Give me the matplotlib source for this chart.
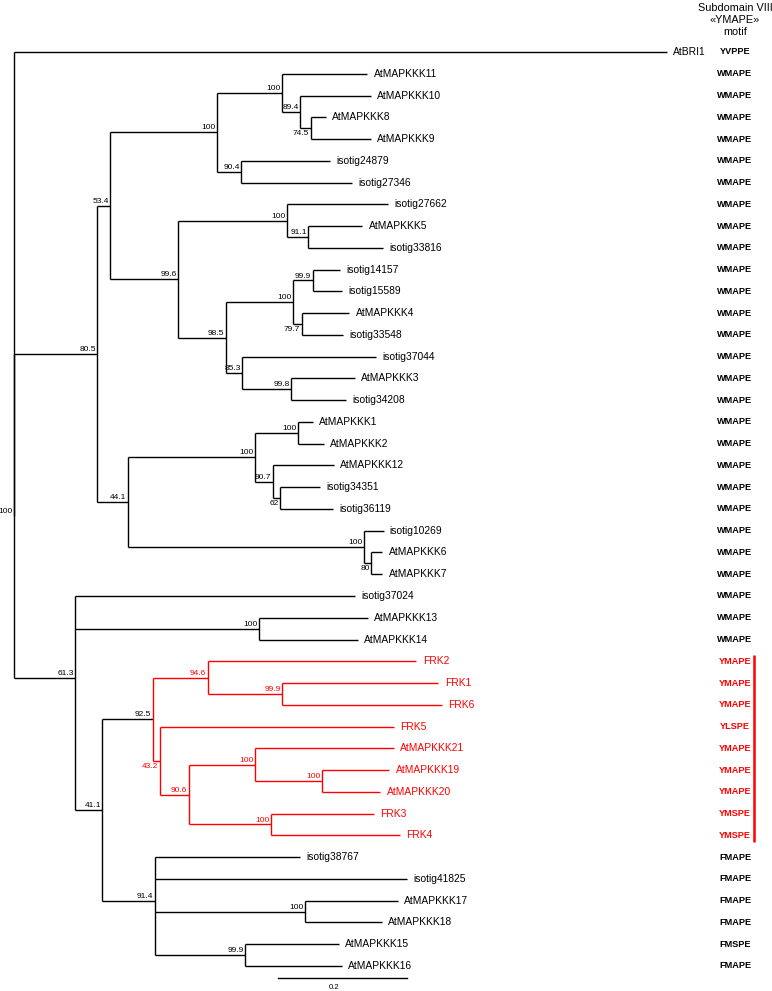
import matplotlib.pyplot as plt
import numpy as np

plt.rcParams['font.family'] = ['Liberation Sans', 'DejaVu Sans']

# tree in preorder: (node, parent, branch length)
edges = [
    ('root', None, 0.0),
    ('AtBRI1', 'root', 1.012),
    ('n100r', 'root', 0.0),
    ('n805', 'n100r', 0.129),
    ('n534', 'n805', 0.020),
    ('nD', 'n534', 0.166),
    ('nF', 'nD', 0.101),
    ('AtMAPKKK11', 'nF', 0.132),
    ('nG', 'nF', 0.028),
    ('AtMAPKKK10', 'nG', 0.109),
    ('nI', 'nG', 0.016),
    ('AtMAPKKK8', 'nI', 0.023),
    ('AtMAPKKK9', 'nI', 0.093),
    ('nH', 'nD', 0.037),
    ('isotig24879', 'nH', 0.138),
    ('isotig27346', 'nH', 0.172),
    ('nE', 'n534', 0.105),
    ('nJ', 'nE', 0.169),
    ('isotig27662', 'nJ', 0.157),
    ('nL', 'nJ', 0.033),
    ('AtMAPKKK5', 'nL', 0.084),
    ('isotig33816', 'nL', 0.116),
    ('nK', 'nE', 0.074),
    ('nM', 'nK', 0.104),
    ('nO', 'nM', 0.031),
    ('isotig14157', 'nO', 0.042),
    ('isotig15589', 'nO', 0.045),
    ('nP', 'nM', 0.014),
    ('AtMAPKKK4', 'nP', 0.074),
    ('isotig33548', 'nP', 0.064),
    ('nN', 'nK', 0.026),
    ('isotig37044', 'nN', 0.208),
    ('nQ', 'nN', 0.076),
    ('AtMAPKKK3', 'nQ', 0.098),
    ('isotig34208', 'nQ', 0.085),
    ('nC', 'n805', 0.047),
    ('nR', 'nC', 0.197),
    ('nT', 'nR', 0.067),
    ('AtMAPKKK1', 'nT', 0.023),
    ('AtMAPKKK2', 'nT', 0.040),
    ('nU', 'nR', 0.028),
    ('AtMAPKKK12', 'nU', 0.095),
    ('nV', 'nU', 0.012),
    ('isotig34351', 'nV', 0.062),
    ('isotig36119', 'nV', 0.081),
    ('nS', 'nC', 0.366),
    ('isotig10269', 'nS', 0.031),
    ('nW', 'nS', 0.012),
    ('AtMAPKKK6', 'nW', 0.017),
    ('AtMAPKKK7', 'nW', 0.017),
    ('nX', 'n100r', 0.095),
    ('isotig37024', 'nX', 0.434),
    ('nY', 'nX', 0.285),
    ('AtMAPKKK13', 'nY', 0.169),
    ('AtMAPKKK14', 'nY', 0.153),
    ('nZ', 'nX', 0.042),
    ('nRR', 'nZ', 0.078),
    ('n946', 'nRR', 0.085),
    ('FRK2', 'n946', 0.324),
    ('n999', 'n946', 0.116),
    ('FRK1', 'n999', 0.242),
    ('FRK6', 'n999', 0.248),
    ('n432', 'nRR', 0.011),
    ('FRK5', 'n432', 0.363),
    ('n906', 'n432', 0.045),
    ('nA1', 'n906', 0.102),
    ('AtMAPKKK21', 'nA1', 0.216),
    ('nA2', 'nA1', 0.104),
    ('AtMAPKKK19', 'nA2', 0.105),
    ('AtMAPKKK20', 'nA2', 0.091),
    ('nA3', 'n906', 0.127),
    ('FRK3', 'nA3', 0.160),
    ('FRK4', 'nA3', 0.200),
    ('n914', 'nZ', 0.081),
    ('isotig38767', 'n914', 0.226),
    ('isotig41825', 'n914', 0.392),
    ('nB1', 'n914', 0.233),
    ('AtMAPKKK17', 'nB1', 0.144),
    ('AtMAPKKK18', 'nB1', 0.119),
    ('nB2', 'n914', 0.140),
    ('AtMAPKKK15', 'nB2', 0.146),
    ('AtMAPKKK16', 'nB2', 0.150),
]

bootstrap = {
    'n100r': 100, 'n805': 80.5, 'n534': 53.4, 'nD': 100, 'nF': 100, 'nG': 89.4,
    'nI': 74.5, 'nH': 90.4, 'nE': 99.6, 'nJ': 100, 'nL': 91.1, 'nK': 98.5,
    'nM': 100, 'nO': 99.9, 'nP': 79.7, 'nN': 85.3, 'nQ': 99.8, 'nC': 44.1,
    'nR': 100, 'nT': 100, 'nU': 90.7, 'nV': 62, 'nS': 100, 'nW': 80,
    'nX': 61.3, 'nY': 100, 'nZ': 41.1, 'nRR': 92.5, 'n946': 94.6, 'n999': 99.9,
    'n432': 43.2, 'n906': 90.6, 'nA1': 100, 'nA2': 100, 'nA3': 100,
    'n914': 91.4, 'nB1': 100, 'nB2': 99.9,
}

# subdomain VIII motif for each leaf, in tree order
motifs = ['YVPPE'] + ['WMAPE'] * 27 + [
    'YMAPE', 'YMAPE', 'YMAPE', 'YLSPE', 'YMAPE', 'YMAPE', 'YMAPE', 'YMSPE', 'YMSPE',
    'FMAPE', 'FMAPE', 'FMAPE', 'FMAPE', 'FMSPE', 'FMAPE']

header = ['Subdomain VIII', '\u00abYMAPE\u00bb', 'motif']
scale_len = 0.2
red_root = 'nRR'

# ---- layout ----
PX = 645.0      # pixels per unit branch length
X0 = 14.0       # root pixel position
ROW = 21.76     # pixels per leaf row
Y0 = 52.0

def px2x(p):
    return (p - X0) / PX

def py2y(p):
    return (p - Y0) / ROW

children = {}
xpos = {}
for node, parent, bl in edges:
    children.setdefault(node, [])
    if parent is None:
        xpos[node] = bl
    else:
        children[parent].append(node)
        xpos[node] = xpos[parent] + bl

leaves = [n for n, _, _ in edges if not children[n]]
ypos = {n: i for i, n in enumerate(leaves)}
for node, _, _ in reversed(edges):
    if children[node]:
        ypos[node] = np.mean([ypos[c] for c in children[node]])

red = set()
def mark(n):
    red.add(n)
    for c in children[n]:
        mark(c)
mark(red_root)

RED = '#ff0000'
below = {'nI', 'nP', 'nV', 'nW', 'n432'}

fig = plt.figure(figsize=(7.72, 9.91), dpi=100)
ax = fig.add_axes([0, 0, 1, 1])
ax.set_xlim(px2x(0), px2x(772))
ax.set_ylim(py2y(991), py2y(0))
ax.axis('off')

lw = 1.0
for node, parent, bl in edges:
    if parent is not None and bl > 0:
        col = RED if (node in red and node != red_root) else 'black'
        ax.plot([xpos[parent], xpos[node]], [ypos[node]] * 2, color=col, lw=lw,
                solid_capstyle='butt')
    if children[node]:
        ys = [ypos[c] for c in children[node]]
        col = RED if node in red else 'black'
        ax.plot([xpos[node]] * 2, [min(ys), max(ys)], color=col, lw=lw,
                solid_capstyle='butt')

# leaf labels
for n in leaves:
    col = RED if n in red else 'black'
    ax.annotate(n, (xpos[n], ypos[n]), xytext=(4.5, 0), textcoords='offset points',
                ha='left', va='center', fontsize=7.4, color=col)

# bootstrap labels
for n, v in bootstrap.items():
    col = RED if (n in red and n != red_root) else 'black'
    if n in below:
        off, va = (-1.0, -1.5), 'top'
    else:
        off, va = (-1.0, 0.6), 'bottom'
    ax.annotate(f'{v:g}', (xpos[n], ypos[n]), xytext=off, textcoords='offset points',
                ha='right', va=va, fontsize=6.0, color=col)

# motif column
xm = px2x(735)
for n, m in zip(leaves, motifs):
    col = RED if n in red else 'black'
    ax.text(xm, ypos[n], m, ha='center', va='center', fontsize=6.6,
            fontweight='bold', color=col)

red_leaves = [n for n in leaves if n in red]
ax.plot([px2x(754)] * 2, [ypos[red_leaves[0]] - 0.3, ypos[red_leaves[-1]] + 0.3],
        color=RED, lw=1.8, solid_capstyle='butt')

for txt, py in zip(header, [8, 20, 32]):
    ax.text(px2x(735), py2y(py), txt, ha='center', va='center', fontsize=7.8)

# scale bar
sx = px2x(278)
sy = py2y(978)
ax.plot([sx, sx + scale_len], [sy, sy], color='black', lw=lw)
ax.text(px2x(334), py2y(988), f'{scale_len:g}', ha='center', va='center',
        fontsize=5.6)

fig.savefig('out.png', dpi=100)
